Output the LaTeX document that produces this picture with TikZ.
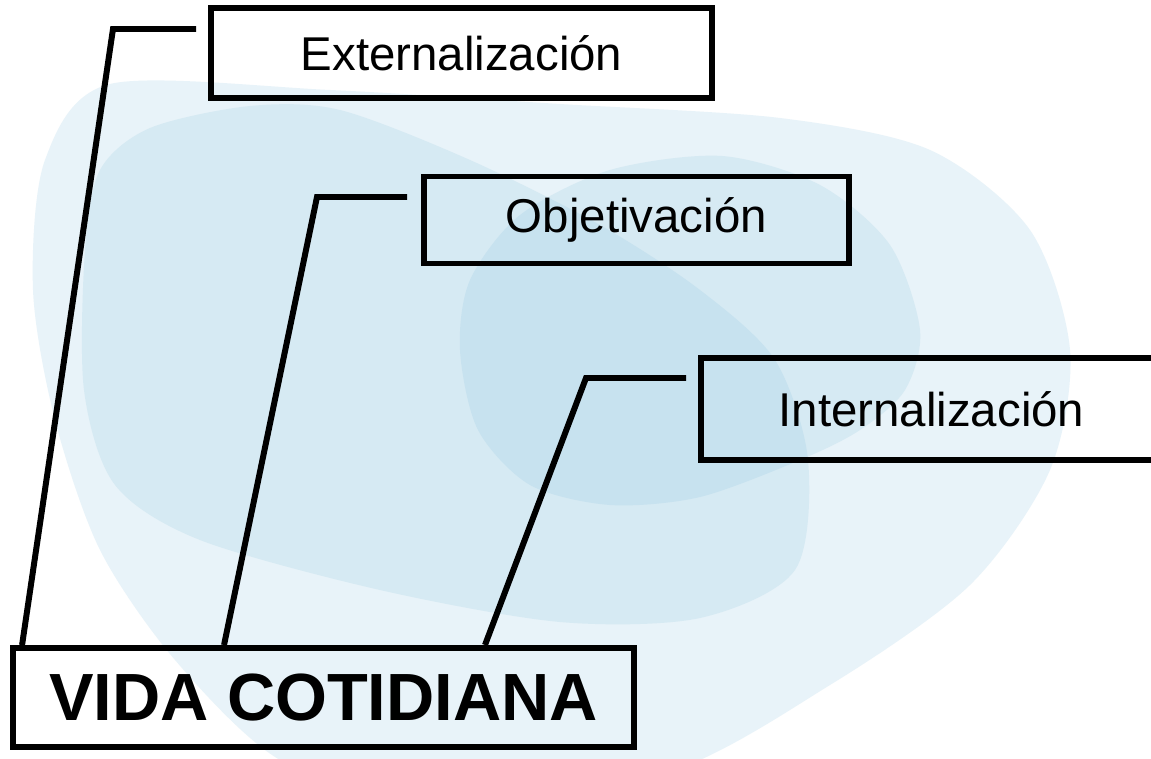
\documentclass[tikz,border=0pt]{standalone}
\usepackage{fontspec}
\setmainfont{Liberation Sans}
\usepackage{tikz}
\definecolor{blobout}{HTML}{E8F3F9}
\definecolor{blobmid}{HTML}{D6EAF3}
\definecolor{blobin}{HTML}{C7E2EF}
\tikzstyle{stage} = [draw,rectangle,line width=3.4pt,inner sep=0pt,font=\fontsize{27}{32}\selectfont]
\tikzstyle{base} = [stage,font=\bfseries\fontsize{38}{45}\selectfont]
\tikzstyle{conn} = [line width=3.4pt]

\begin{document}
\begin{tikzpicture}[x=0.02cm,y=-0.02cm]
    \clip (0,0) rectangle (1151,759);
    \fill [white] (0,0) rectangle (1151,759);

    % background clouds
    \fill [blobout] plot [smooth cycle] coordinates {(110,84) (330,90) (560,104) (780,118) (930,150) (1030,230) (1070,350) (1050,470) (970,585) (830,685) (660,775) (420,800) (280,760) (175,660) (100,550) (55,420) (33,290) (45,160)};
    \fill [blobmid] plot [smooth cycle] coordinates {(150,128) (250,106) (340,110) (470,160) (600,225) (700,290) (775,360) (808,460) (795,570) (700,618) (560,622) (380,590) (200,540) (115,485) (84,390) (85,250) (100,170)};
    \fill [blobmid] plot [smooth cycle] coordinates {(722,156) (820,185) (890,245) (920,330) (905,390) (860,430) (800,460) (700,497) (610,505) (530,485) (478,430) (460,350) (470,280) (520,215) (610,170)};
    \begin{scope}
        \clip plot [smooth cycle] coordinates {(150,128) (250,106) (340,110) (470,160) (600,225) (700,290) (775,360) (808,460) (795,570) (700,618) (560,622) (380,590) (200,540) (115,485) (84,390) (85,250) (100,170)};
        \fill [blobin] plot [smooth cycle] coordinates {(722,156) (820,185) (890,245) (920,330) (905,390) (860,430) (800,460) (700,497) (610,505) (530,485) (478,430) (460,350) (470,280) (520,215) (610,170)};
    \end{scope}

    % boxes
    \node [stage,minimum width=10.02cm,minimum height=1.8cm] (ext) at (461.5,53) {Externalización};
    \node [stage,minimum width=8.5cm,minimum height=1.74cm] (obj) at (636.5,220) {Objetivación};
    \node [stage,anchor=north west,minimum height=2.04cm,text width=6.5cm,inner xsep=1.55cm,align=left] (int) at (698,355) {Internalización};
    \node [base,minimum width=12.42cm,minimum height=1.98cm] (vida) at (323.5,697.5) {VIDA COTIDIANA};

    % connectors
    \coordinate (extbend) at (113,29);
    \coordinate (objbend) at (317,197);
    \coordinate (intbend) at (586,378);
    \draw [conn] (ext.west |- extbend) ++(-12,0) -- (extbend) -- ([xshift=0.24cm]vida.north west);
    \draw [conn] (obj.west |- objbend) ++(-14,0) -- (objbend) -- ([xshift=4.28cm]vida.north west);
    \draw [conn] (int.west |- intbend) ++(-12,0) -- (intbend) -- ([xshift=9.5cm]vida.north west);
\end{tikzpicture}
\end{document}
